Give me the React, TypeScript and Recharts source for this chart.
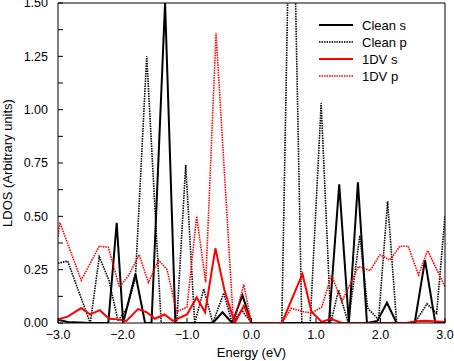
import { LineChart, Line, XAxis, YAxis, Legend } from "recharts";

const FONT = '"Liberation Sans", Arial, Helvetica, sans-serif';

// energy ticks (eV) and LDOS ticks (every 0.125, labelled every 0.25)
const X_TICKS = [-3, -2, -1, 0, 1, 2, 3];
const Y_TICKS = [0, 0.125, 0.25, 0.375, 0.5, 0.625, 0.75, 0.875, 1, 1.125, 1.25, 1.375, 1.5];

// Clean s
const CLEAN_S_E = [-3.0, -2.85, -2.5, -2.22, -2.09, -1.99, -1.8, -1.65, -1.55, -1.34, -1.18, -0.6, -0.45, -0.3, -0.14, 0.0, 0.47, 1.2, 1.36, 1.51, 1.65, 1.79, 1.95, 2.1, 2.25, 2.53, 2.69, 2.85, 3.0];
const CLEAN_S_V = [0.015, 0.005, 0.0, 0.0, 0.47, 0.0, 0.23, 0.0, 0.0, 1.5, 0.0, 0.0, 0.05, 0.0, 0.13, 0.0, 0.0, 0.0, 0.65, 0.0, 0.66, 0.0, 0.01, 0.095, 0.0, 0.0, 0.295, 0.0, 0.005];

// Clean p
const CLEAN_P_E = [-3.0, -2.85, -2.5, -2.36, -2.21, -2.07, -1.93, -1.8, -1.625, -1.4, -1.16, -1.02, -0.88, -0.74, -0.6, -0.43, -0.3, -0.15, 0.0, 0.47, 0.62, 0.78, 0.91, 1.08, 1.23, 1.35, 1.5, 1.68, 1.8, 1.97, 2.11, 2.25, 2.53, 2.72, 2.87, 3.0];
const CLEAN_P_V = [0.28, 0.29, 0.0, 0.31, 0.2, 0.01, 0.07, 0.21, 1.25, 0.0, 0.0, 0.74, 0.0, 0.16, 0.0, 0.14, 0.0, 0.06, 0.0, 0.0, 2.5, 0.0, 0.0, 1.03, 0.0, 0.155, 0.0, 0.41, 0.07, 0.015, 0.57, 0.0, 0.0, 0.09, 0.045, 0.5];

// 1DV s
const DV_S_E = [-3.0, -2.85, -2.64, -2.5, -2.35, -2.21, -2.07, -1.94, -1.76, -1.62, -1.5, -1.35, -1.22, -1.0, -0.85, -0.72, -0.56, -0.42, -0.26, -0.12, 0.0, 0.47, 0.79, 0.93, 1.09, 1.23, 1.4, 2.4, 2.55, 2.7, 3.0];
const DV_S_V = [0.017, 0.03, 0.07, 0.04, 0.06, 0.02, 0.017, 0.01, 0.065, 0.05, 0.02, 0.04, 0.01, 0.04, 0.12, 0.05, 0.35, 0.155, 0.0, 0.08, 0.0, 0.0, 0.23, 0.053, 0.005, 0.02, 0.0, 0.0, 0.008, 0.01, 0.005];

// 1DV p
const DV_P_E = [-3.0, -2.97, -2.64, -2.36, -2.22, -2.05, -1.91, -1.74, -1.6, -1.44, -1.31, -1.16, -1.0, -0.85, -0.71, -0.55, -0.28, -0.12, 0.0, 0.47, 0.62, 0.8, 0.93, 1.09, 1.24, 1.4, 1.66, 1.84, 1.99, 2.15, 2.3, 2.43, 2.59, 2.73, 3.0];
const DV_P_V = [0.405, 0.47, 0.2, 0.36, 0.355, 0.17, 0.22, 0.32, 0.19, 0.295, 0.25, 0.053, 0.074, 0.5, 0.19, 1.36, 0.0, 0.18, 0.0, 0.0, 0.069, 0.053, 0.047, 0.075, 0.225, 0.1, 0.265, 0.245, 0.32, 0.295, 0.36, 0.36, 0.225, 0.34, 0.17];

const zip = (e: number[], v: number[]) => e.map((x, i) => ({ e: x, v: v[i] }));

const SERIES = [
  { name: "Clean s", data: zip(CLEAN_S_E, CLEAN_S_V), color: "#000000", width: 2, dash: undefined },
  { name: "Clean p", data: zip(CLEAN_P_E, CLEAN_P_V), color: "#000000", width: 1.6, dash: "1.5 1" },
  { name: "1DV s", data: zip(DV_S_E, DV_S_V), color: "#ff0000", width: 2, dash: undefined },
  { name: "1DV p", data: zip(DV_P_E, DV_P_V), color: "#ff0000", width: 1.6, dash: "1.5 1" },
];

// draw order: black dotted, black solid, red dotted, red solid on top
const DRAW_ORDER = [1, 0, 3, 2];

const fmtX = (v: number) => v.toFixed(1).replace("-", "\u2212");
const fmtY = (v: number) => (Math.round(v * 8) % 2 === 0 ? v.toFixed(2) : "");
const blank = () => "";

const TICK = { fontSize: 12.5, fill: "#000", fontFamily: FONT };
const AXIS_LINE = { stroke: "#000", strokeWidth: 1 };
const TICK_LINE = { stroke: "#000", strokeWidth: 1 };

function LegendBox() {
  return (
    <div style={{ fontFamily: FONT, fontSize: 13, color: "#000" }}>
      {SERIES.map((s) => (
        <div key={s.name} style={{ display: "flex", alignItems: "center", height: 17 }}>
          <svg width={34} height={4} style={{ display: "block" }}>
            <line x1={0} y1={2} x2={34} y2={2} stroke={s.color} strokeWidth={s.width} strokeDasharray={s.dash} />
          </svg>
          <span style={{ marginLeft: 9, lineHeight: "17px" }}>{s.name}</span>
        </div>
      ))}
    </div>
  );
}

export default function App() {
  return (
    <div style={{ position: "absolute", left: 0, top: 0, width: 454, height: 361, background: "#fff" }}>
      <LineChart width={454} height={361} margin={{ top: 2, right: 8, left: 0, bottom: 0 }}>
        <XAxis
          xAxisId="b"
          dataKey="e"
          type="number"
          domain={[-3, 3]}
          ticks={X_TICKS}
          interval={0}
          allowDataOverflow
          height={38}
          tickSize={-5}
          tickMargin={12}
          tick={TICK}
          tickFormatter={fmtX}
          axisLine={AXIS_LINE}
          tickLine={TICK_LINE}
          label={{ value: "Energy (eV)", position: "insideBottom", offset: 4.5, fontSize: 13, fill: "#000", fontFamily: FONT }}
        />
        <XAxis
          xAxisId="t"
          orientation="top"
          type="number"
          domain={[-3, 3]}
          ticks={X_TICKS}
          interval={0}
          height={1}
          tickSize={-5}
          tickFormatter={blank}
          axisLine={AXIS_LINE}
          tickLine={TICK_LINE}
        />
        <YAxis
          yAxisId="l"
          type="number"
          domain={[0, 1.5]}
          ticks={Y_TICKS}
          interval={0}
          allowDataOverflow
          width={58}
          tickSize={-5}
          tickMargin={15}
          tick={TICK}
          tickFormatter={fmtY}
          axisLine={AXIS_LINE}
          tickLine={TICK_LINE}
          label={{
            value: "LDOS (Arbitrary units)",
            angle: -90,
            position: "insideLeft",
            offset: 7.5,
            fontSize: 13,
            fill: "#000",
            fontFamily: FONT,
            style: { textAnchor: "middle" },
          }}
        />
        <YAxis
          yAxisId="r"
          orientation="right"
          type="number"
          domain={[0, 1.5]}
          ticks={Y_TICKS}
          interval={0}
          width={1}
          tickSize={-5}
          tickFormatter={blank}
          axisLine={AXIS_LINE}
          tickLine={TICK_LINE}
        />
        <Legend
          layout="vertical"
          align="center"
          verticalAlign="middle"
          content={() => <LegendBox />}
          wrapperStyle={{ left: 319, top: 16.5, width: 120, height: 70 }}
        />
        {DRAW_ORDER.map((i) => {
          const s = SERIES[i];
          return (
            <Line
              key={s.name}
              xAxisId="b"
              yAxisId="l"
              data={s.data}
              dataKey="v"
              name={s.name}
              type="linear"
              stroke={s.color}
              strokeWidth={s.width}
              strokeDasharray={s.dash}
              dot={false}
              activeDot={false}
              isAnimationActive={false}
              legendType="none"
            />
          );
        })}
      </LineChart>
    </div>
  );
}
